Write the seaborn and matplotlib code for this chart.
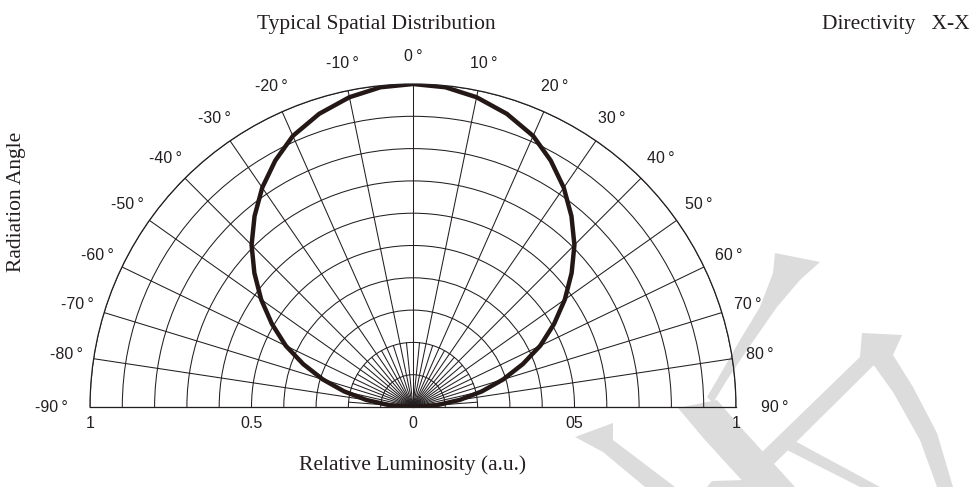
import numpy as np
import matplotlib
matplotlib.use("Agg")
import matplotlib.pyplot as plt
import seaborn as sns
from matplotlib.patches import Polygon

# ------------------------------------
# Data
# ------------------------------------
angle_labels = [-90, -80, -70, -60, -50, -40, -30, -20, -10, 0,
                10, 20, 30, 40, 50, 60, 70, 80, 90]
# where each labelled spoke sits in the drawing (deg from the top)
spoke_pos = [-90, -81.4, -73.0, -64.3, -54.7, -44.9, -34.5, -23.9, -11.6, 0,
             11.6, 23.9, 34.5, 44.9, 54.7, 64.3, 73.0, 81.4, 90]

curve_angle = [-90, -85, -80, -75, -70, -65, -60, -55, -50, -45, -40, -35,
               -30, -25, -20, -15, -10, -5, 0, 5, 10, 15, 20, 25, 30, 35,
               40, 45, 50, 55, 60, 65, 70, 75, 80, 85, 90]
rel_lum = [0.0, 0.073, 0.146, 0.219, 0.292, 0.365, 0.437, 0.507, 0.576,
           0.643, 0.708, 0.768, 0.824, 0.874, 0.918, 0.953, 0.979, 0.995,
           1.0,
           0.995, 0.979, 0.953, 0.918, 0.874, 0.824, 0.768, 0.708, 0.643,
           0.576, 0.507, 0.437, 0.365, 0.292, 0.219, 0.146, 0.073, 0.0]

r_labels = ["1", "0.5", "0", "05", "1"]
r_label_pos = [(-90, 1.0), (-90, 0.5), (0, 0.0), (90, 0.5), (90, 1.0)]

INK = "#231f20"
W, H = 977, 487


def fx(x):
    return x / W


def fy(y):
    return 1 - y / H


def to_pos(a):
    return np.deg2rad(np.interp(a, angle_labels, spoke_pos))


# ------------------------------------
# Figure
# ------------------------------------
sns.set_theme(style="white")
plt.rcParams["font.family"] = ["Liberation Sans", "DejaVu Sans"]

fig = plt.figure(figsize=(W / 100, H / 100), dpi=100)

# faint watermark behind the chart
wm_shapes = [
    [(775, 253), (820, 262), (800, 280), (777, 307), (747, 350), (727, 380),
     (713, 403), (707, 397), (717, 380), (740, 340), (760, 307), (773, 273)],
    [(678, 408), (717, 400), (745, 432), (795, 487), (748, 487), (705, 440)],
    [(575, 437), (613, 423), (613, 440), (675, 487), (645, 487), (603, 452)],
    [(862, 333), (902, 335), (893, 352), (873, 366), (774, 464), (762, 452),
     (860, 357)],
    [(902, 335), (893, 355), (913, 387), (937, 433), (953, 487), (937, 487),
     (920, 440), (893, 392), (870, 360)],
    [(793, 440), (880, 487), (860, 487), (787, 450)],
    [(707, 487), (712, 481), (745, 480), (748, 487)],
]
for shape in wm_shapes:
    fig.add_artist(Polygon([(fx(x), fy(y)) for x, y in shape], closed=True,
                           transform=fig.transFigure, facecolor="#dcdcdc",
                           edgecolor="none", zorder=-1))

# half-disc: centre (413, 407) px, radius R px; the wedge sits in the middle
# of the axes box at half its size, so the box is made twice as big
R = 323
cx, cy = 413, 407 - R / 2
ax = fig.add_axes([fx(cx - 2 * R), fy(cy + R), 4 * R / W, 2 * R / H],
                  projection="polar")
ax.patch.set_alpha(0)
ax.set_theta_zero_location("N")
ax.set_theta_direction(-1)
ax.set_thetamin(-90)
ax.set_thetamax(90)
ax.set_ylim(0, 1)

ax.set_xticks(np.deg2rad(spoke_pos))
ax.set_xticklabels([])
ax.set_yticks(np.arange(0.1, 1.01, 0.1))
ax.set_yticklabels([])
ax.tick_params(length=0)
ax.grid(True, color=INK, linewidth=0.75)
for sp in ax.spines.values():
    sp.set_color(INK)
    sp.set_linewidth(0.9)

# short spokes every 5 deg near the centre
for a in range(-85, 90, 10):
    ax.plot([to_pos(a)] * 2, [0, 0.2], color=INK, linewidth=0.75)

sns.lineplot(x=to_pos(curve_angle), y=rel_lum, ax=ax, sort=False,
             color="#231815", linewidth=3.2)
ax.set_xlabel("")
ax.set_ylabel("")

# angle labels
for a, p in zip(angle_labels, spoke_pos):
    rr = 1.12 if abs(a) == 90 else 1.085
    ax.text(np.deg2rad(p), rr, f"{a}\u2009°", ha="center", va="center",
            fontsize=11.5, color=INK)

# radial scale along the base line
for lab, (a, rv) in zip(r_labels, r_label_pos):
    ax.annotate(lab, xy=(np.deg2rad(a), rv), xytext=(0, -12),
                textcoords="offset points", ha="center", va="center",
                fontsize=11.5, color=INK, annotation_clip=False)

serif = ["Liberation Serif", "DejaVu Serif"]
fig.text(fx(376), fy(25), "Typical Spatial Distribution", ha="center",
         va="center", fontsize=15.5, family=serif, color=INK)
fig.text(fx(896), fy(25), "Directivity   X-X", ha="center", va="center",
         fontsize=15.5, family=serif, color=INK)
fig.text(fx(17), fy(202), "Radiation Angle", ha="center", va="center",
         rotation=90, fontsize=15.5, family=serif, color=INK)
fig.text(fx(413), fy(465), "Relative Luminosity (a.u.)", ha="center",
         va="center", fontsize=15.5, family=serif, color=INK)

fig.savefig("out.png", dpi=100, facecolor="white")
plt.close(fig)
